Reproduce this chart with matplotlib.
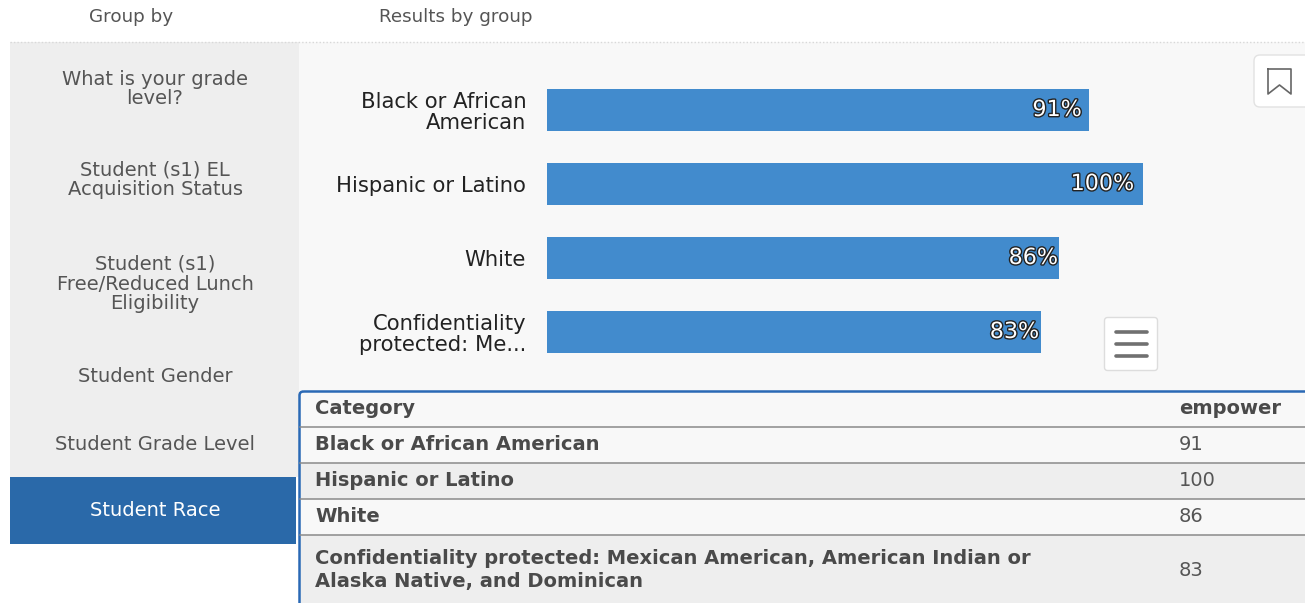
import matplotlib
matplotlib.use('Agg')
import matplotlib.pyplot as plt
import matplotlib.patheffects as pe
from matplotlib.patches import Rectangle, FancyBboxPatch

plt.rcParams['font.family'] = ['DejaVu Sans']

group_names = ['What is your grade\nlevel?', 'Student (s1) EL\nAcquisition Status',
               'Student (s1)\nFree/Reduced Lunch\nEligibility', 'Student Gender',
               'Student Grade Level', 'Student Race']
bar_labels = ['Black or African\nAmerican', 'Hispanic or Latino', 'White',
              'Confidentiality\nprotected: Me...']
table_labels = ['Black or African American', 'Hispanic or Latino', 'White',
                'Confidentiality protected: Mexican American, American Indian or\nAlaska Native, and Dominican']
empower = [91, 100, 86, 83]

W, H = 1305, 603
fig = plt.figure(figsize=(W / 100, H / 100), dpi=100, facecolor='white')

# page furniture lives in an axes measured in pixels, y pointing down
bg = fig.add_axes([0, 0, 1, 1])
bg.set_xlim(0, W)
bg.set_ylim(H, 0)
bg.axis('off')

bg.add_patch(Rectangle((10, 42), 289, 435, fc='#eeeeee', ec='none'))
bg.add_patch(Rectangle((299, 42), W - 299, 350, fc='#f8f8f8', ec='none'))
bg.add_patch(Rectangle((10, 477), 286, 67, fc='#2a69a9', ec='none'))
bg.plot([10, W], [42, 42], color='#d8d8d8', lw=1, ls=(0, (1, 1.5)))

bg.text(131, 17, 'Group by', ha='center', va='center', fontsize=13.2, color='#555555')
bg.text(456, 17, 'Results by group', ha='center', va='center', fontsize=13.2, color='#555555')

side_y = [89, 180, 284, 376, 444, 511]
for name, y in zip(group_names, side_y):
    active = name == 'Student Race'
    bg.text(155, y, name, ha='center', va='center', fontsize=14, linespacing=1.05,
            color='white' if active else '#555555')

# bookmark button
bg.add_patch(FancyBboxPatch((1257, 58), 60, 46, boxstyle='round,pad=3,rounding_size=6',
                            fc='white', ec='#e2e2e2', lw=1, clip_on=True))
bg.plot([1268, 1268, 1279.5, 1291, 1291, 1268], [69, 94, 85, 94, 69, 69], color='#666666', lw=1.2)

# menu button
bg.add_patch(FancyBboxPatch((1106, 319), 50, 50, boxstyle='round,pad=1.5,rounding_size=3',
                            fc='white', ec='#dddddd', lw=1))
for y in [332, 344, 356]:
    bg.plot([1116, 1147], [y, y], color='#707070', lw=2.6, solid_capstyle='round')

# table background and rows
row_edges = [391, 427, 463, 499, 535, 603]
row_fill = ['#f8f8f8', '#f8f8f8', '#eeeeee', '#f8f8f8', '#eeeeee']
for i, c in enumerate(row_fill):
    bg.add_patch(Rectangle((300, row_edges[i]), W - 300, row_edges[i + 1] - row_edges[i], fc=c, ec='none'))
for y in row_edges[1:-1]:
    bg.plot([300, W], [y, y], color='#8a8a8a', lw=1.1)
bg.add_patch(FancyBboxPatch((299.5, 391.5), 1100, 400, boxstyle='round,pad=0,rounding_size=4',
                            fc='none', ec='#2a69b5', lw=1.8))

text_dark = '#4a4a4a'
bg.text(315, 409, 'Category', va='center', fontsize=14, weight='bold', color=text_dark)
bg.text(1179, 409, 'empower', va='center', fontsize=14, weight='bold', color=text_dark)
row_y = [445, 481, 517, 570]
for label, val, y in zip(table_labels, empower, row_y):
    bg.text(315, y, label, va='center', fontsize=14, weight='bold', color=text_dark, linespacing=1.3)
    bg.text(1179, y, str(val), va='center', fontsize=14, color='#555555')

# the bar chart itself
ax = fig.add_axes([547 / W, 1 - 369 / H, (1142.5 - 547) / W, 296 / H])
ax.patch.set_alpha(0)
ypos = range(len(bar_labels))
ax.barh(ypos, empower, height=42 / 74, color='#428bcd', edgecolor='none')
ax.set_xlim(0, 100)
ax.set_ylim(3.5, -0.5)
ax.set_xticks([])
ax.set_yticks(list(ypos), bar_labels, fontsize=15.2, color='#222222', linespacing=1.05)
ax.tick_params(axis='y', length=0, pad=15)
for s in ax.spines.values():
    s.set_visible(False)

# data labels sit just inside the bar end
label_inset = [-7, -8, -1, -2]
for i, v in enumerate(empower):
    ax.annotate(f'{v}%', (v, i), xytext=(label_inset[i] * 0.72, 0), textcoords='offset points',
                ha='right', va='center', fontsize=16, color='white',
                path_effects=[pe.withStroke(linewidth=2, foreground='#222222')])

fig.savefig('out.png', dpi=100)
